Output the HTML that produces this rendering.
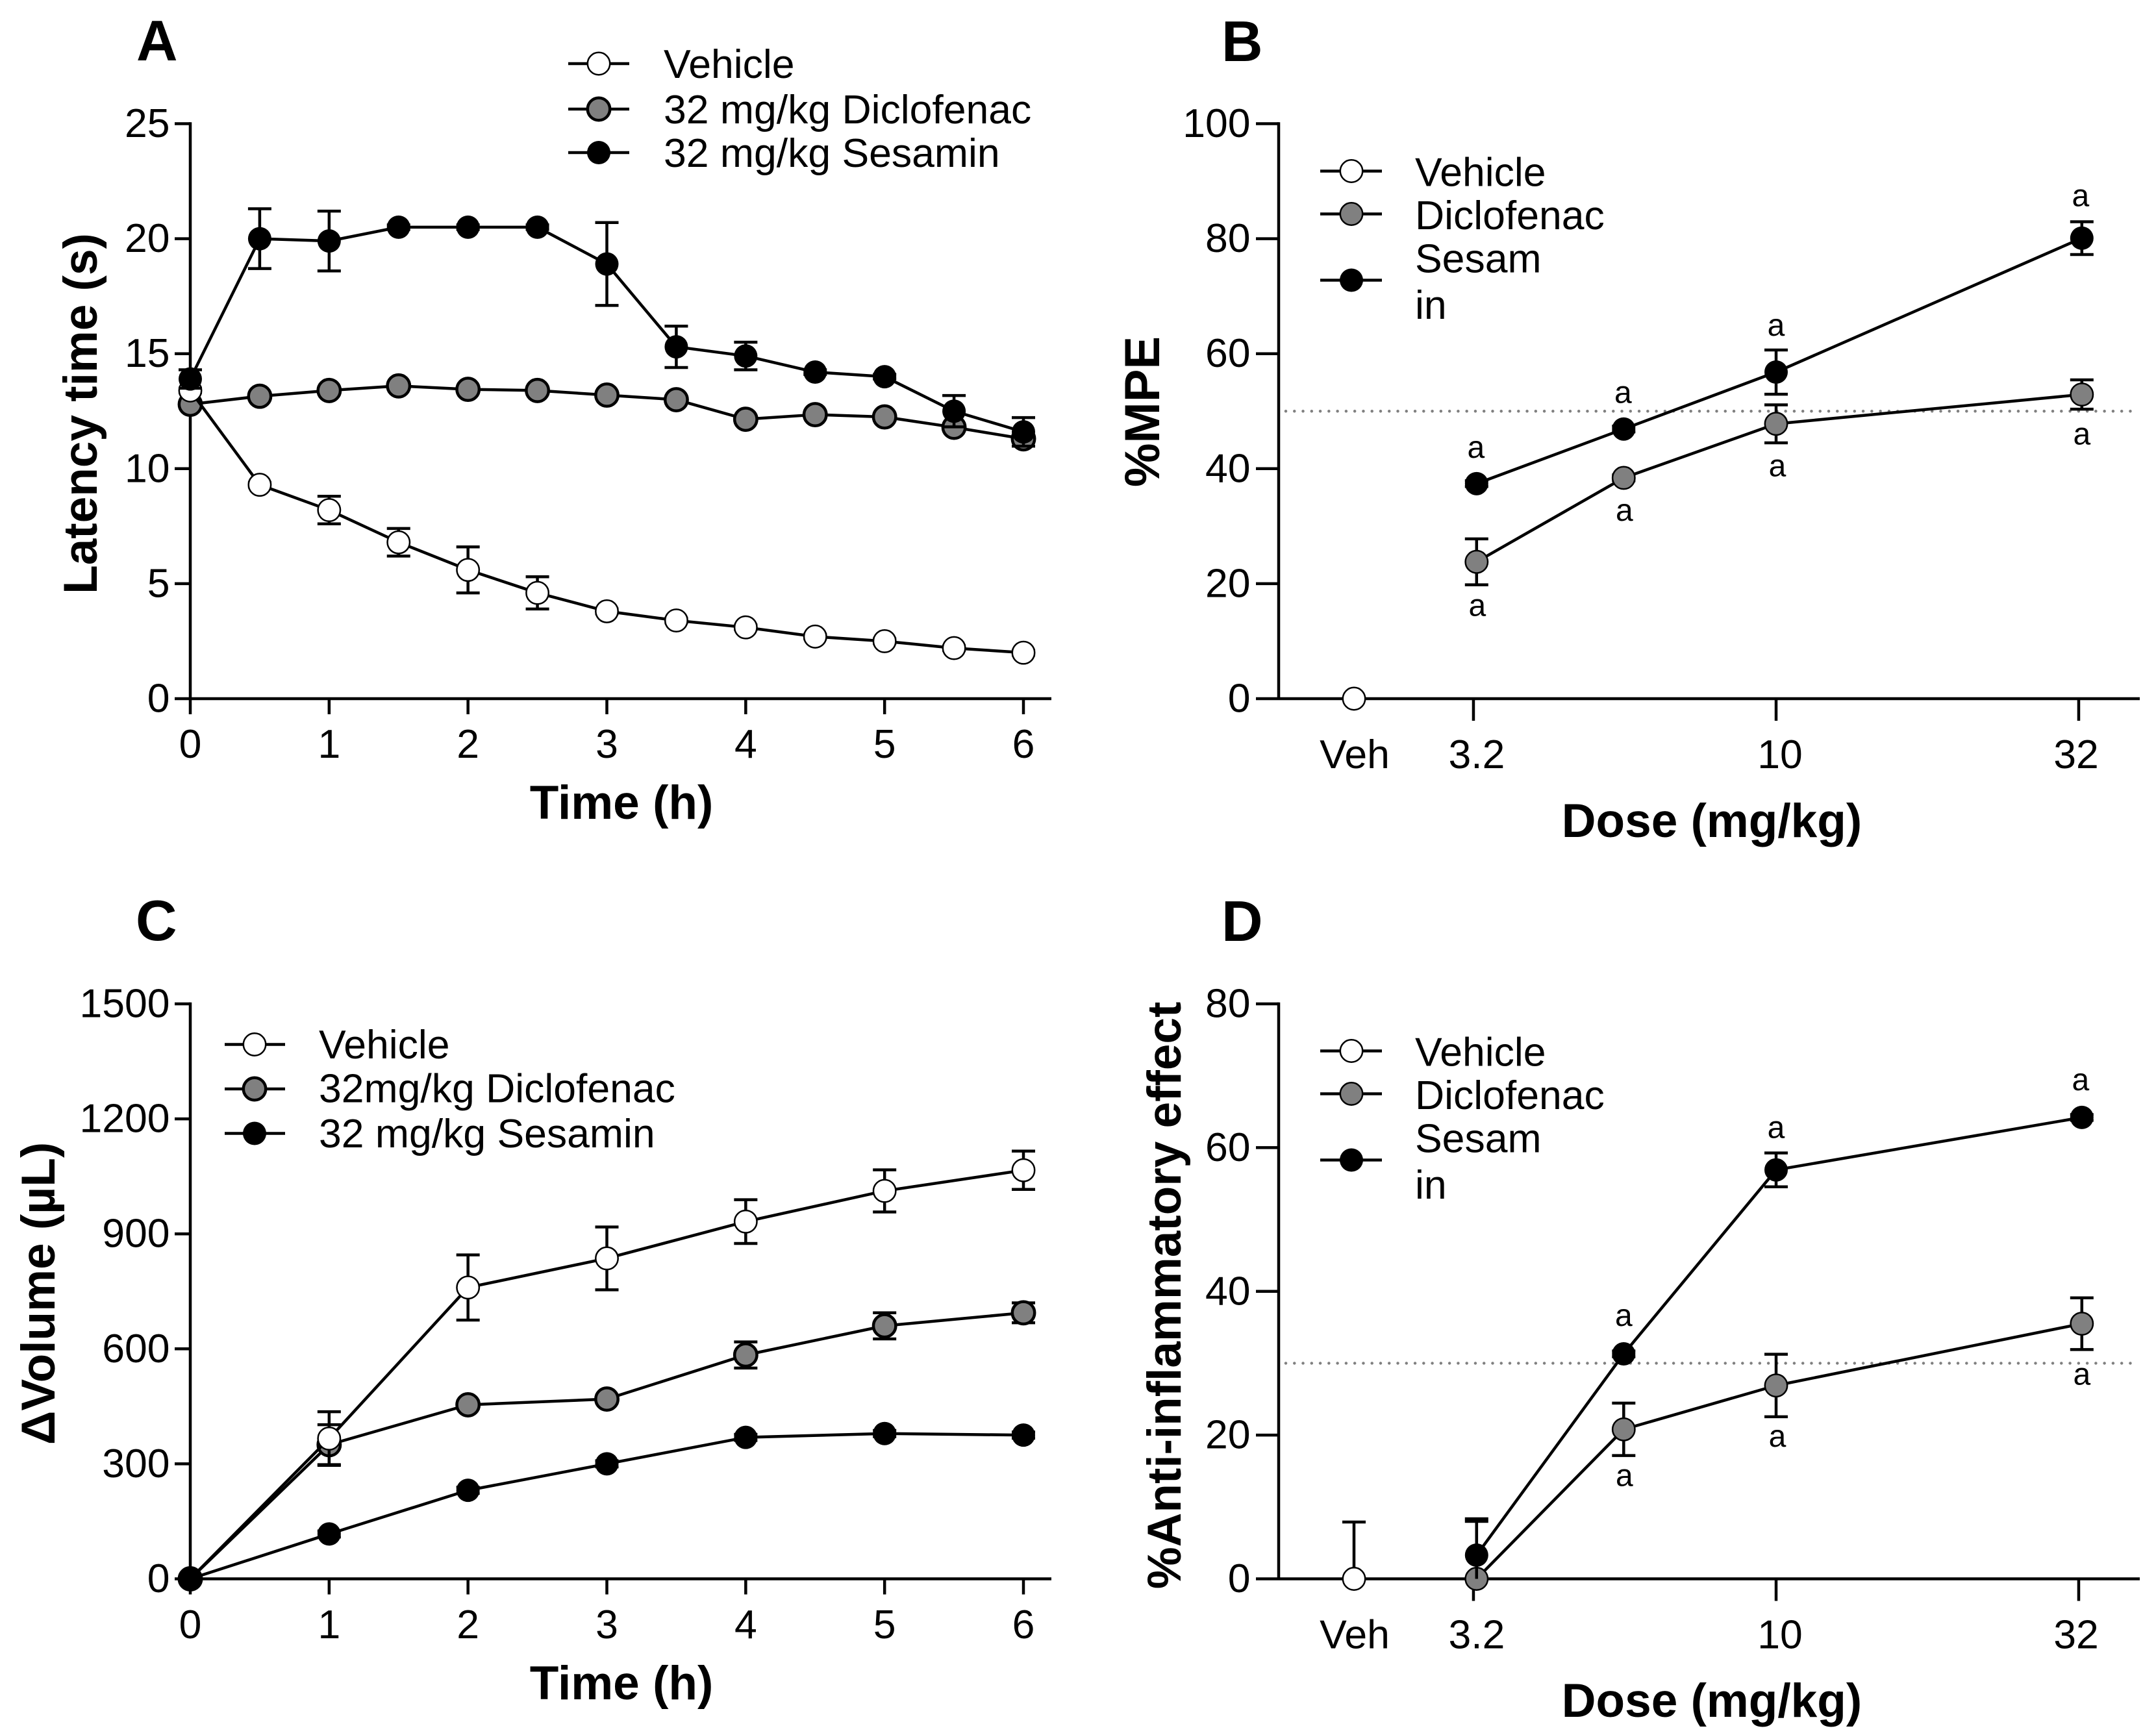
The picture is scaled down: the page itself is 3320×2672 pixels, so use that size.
<!DOCTYPE html>
<html lang="en">
<head>
<meta charset="utf-8">
<title>Latency, volume and dose-response panels</title>
<style>
  html, body { margin: 0; padding: 0; background: #fff; }
  svg { display: block; font-family: "Liberation Sans", Arial, sans-serif; fill: #000; }
  .tick { font-size: 62.5px; }
  .legend { font-size: 62.5px; }
  .title { font-size: 73px; font-weight: 700; }
  .panel-letter { font-size: 88px; font-weight: 700; }
  .sig { font-size: 48px; text-anchor: middle; }
</style>
</head>
<body>
<svg id="figure" xmlns="http://www.w3.org/2000/svg" width="3320" height="2672" viewBox="0 0 3320 2672">
  <rect x="0" y="0" width="3320" height="2672" fill="#fff"/>

  <g id="panel-a">
    <text class="panel-letter" x="210" y="93">A</text>
    <text class="title" x="957" y="1261" text-anchor="middle">Time (h)</text>
    <text class="title" text-anchor="middle" transform="translate(149 637) rotate(-90)">Latency time (s)</text>
  </g>
  <g id="panel-b">
    <text class="panel-letter" x="1881" y="94">B</text>
    <text class="title" x="2636" y="1289" text-anchor="middle">Dose (mg/kg)</text>
    <text class="title" style="font-size:76px" text-anchor="middle" transform="translate(1785 634) rotate(-90)">%MPE</text>
  </g>
  <g id="panel-c">
    <text class="panel-letter" x="209" y="1448">C</text>
    <text class="title" x="957" y="2617" text-anchor="middle">Time (h)</text>
    <text class="title" text-anchor="middle" transform="translate(84 1992) rotate(-90)">ΔVolume (µL)</text>
  </g>
  <g id="panel-d">
    <text class="panel-letter" x="1881" y="1449">D</text>
    <text class="title" x="2636" y="2644" text-anchor="middle">Dose (mg/kg)</text>
    <text class="title" text-anchor="middle" transform="translate(1818 1995) rotate(-90)">%Anti-inflammatory effect</text>
  </g>

  <g id="legend-a">
    <g>
      <line x1="875" x2="969" y1="98" y2="98" stroke="#000" stroke-width="4.5"/>
      <circle cx="922" cy="98" r="17.2" fill="#fff" stroke="#000" stroke-width="2.5"/>
      <text class="legend" x="1022" y="120">Vehicle</text>
    </g>
    <g>
      <line x1="875" x2="969" y1="168" y2="168" stroke="#000" stroke-width="4.5"/>
      <circle cx="922" cy="168" r="17.2" fill="#808080" stroke="#000" stroke-width="4.5"/>
      <text class="legend" x="1022" y="190">32 mg/kg Diclofenac</text>
    </g>
    <g>
      <line x1="875" x2="969" y1="235" y2="235" stroke="#000" stroke-width="4.5"/>
      <circle cx="922" cy="235" r="18" fill="#000"/>
      <text class="legend" x="1022" y="257">32 mg/kg Sesamin</text>
    </g>
  </g>

  <g id="legend-b">
    <g>
      <line x1="2033" x2="2128" y1="263.5" y2="263.5" stroke="#000" stroke-width="4.5"/>
      <circle cx="2081" cy="263.5" r="17.2" fill="#fff" stroke="#000" stroke-width="2.5"/>
      <text class="legend" x="2179" y="286.5">Vehicle</text>
    </g>
    <g>
      <line x1="2033" x2="2128" y1="329.5" y2="329.5" stroke="#000" stroke-width="4.5"/>
      <circle cx="2081" cy="329.5" r="17.2" fill="#808080" stroke="#000" stroke-width="2.5"/>
      <text class="legend" x="2179" y="353">Diclofenac</text>
    </g>
    <g>
      <line x1="2033" x2="2128" y1="431.5" y2="431.5" stroke="#000" stroke-width="4.5"/>
      <circle cx="2081" cy="431.5" r="18" fill="#000"/>
      <text class="legend" x="2179" y="419.5">Sesam</text>
      <text class="legend" x="2179" y="491">in</text>
    </g>
  </g>

  <g id="legend-c">
    <g>
      <line x1="346" x2="439" y1="1608.5" y2="1608.5" stroke="#000" stroke-width="4.5"/>
      <circle cx="392" cy="1608.5" r="17.2" fill="#fff" stroke="#000" stroke-width="2.5"/>
      <text class="legend" x="491" y="1630">Vehicle</text>
    </g>
    <g>
      <line x1="346" x2="439" y1="1677" y2="1677" stroke="#000" stroke-width="4.5"/>
      <circle cx="392" cy="1677" r="17.2" fill="#808080" stroke="#000" stroke-width="4.5"/>
      <text class="legend" x="491" y="1697.5">32mg/kg Diclofenac</text>
    </g>
    <g>
      <line x1="346" x2="439" y1="1745.5" y2="1745.5" stroke="#000" stroke-width="4.5"/>
      <circle cx="392" cy="1745.5" r="18" fill="#000"/>
      <text class="legend" x="491" y="1767">32 mg/kg Sesamin</text>
    </g>
  </g>

  <g id="legend-d">
    <g>
      <line x1="2033" x2="2128" y1="1618.5" y2="1618.5" stroke="#000" stroke-width="4.5"/>
      <circle cx="2081" cy="1618.5" r="17.2" fill="#fff" stroke="#000" stroke-width="2.5"/>
      <text class="legend" x="2179" y="1641.5">Vehicle</text>
    </g>
    <g>
      <line x1="2033" x2="2128" y1="1684.5" y2="1684.5" stroke="#000" stroke-width="4.5"/>
      <circle cx="2081" cy="1684.5" r="17.2" fill="#808080" stroke="#000" stroke-width="2.5"/>
      <text class="legend" x="2179" y="1708">Diclofenac</text>
    </g>
    <g>
      <line x1="2033" x2="2128" y1="1786.5" y2="1786.5" stroke="#000" stroke-width="4.5"/>
      <circle cx="2081" cy="1786.5" r="18" fill="#000"/>
      <text class="legend" x="2179" y="1774.5">Sesam</text>
      <text class="legend" x="2179" y="1846">in</text>
    </g>
  </g>
</svg>

<script>
// ---- Panel A data: latency time (s) vs time (h) ----
const aHours = [0, 0.5, 1, 1.5, 2, 2.5, 3, 3.5, 4, 4.5, 5, 5.5, 6];
const aVehicle = [13.4, 9.3, 8.2, 6.8, 5.6, 4.6, 3.8, 3.4, 3.1, 2.7, 2.5, 2.2, 2.0];
const aVehicleErr = [0.1, 0.1, 0.6, 0.6, 1.0, 0.7, 0.1, 0.1, 0.1, 0.1, 0.1, 0.1, 0.1];
const aDiclofenac = [12.8, 13.15, 13.4, 13.6, 13.45, 13.4, 13.2, 13.0, 12.15, 12.35, 12.25, 11.8, 11.3];
const aDiclofenacErr = [0.1, 0.1, 0.1, 0.1, 0.1, 0.1, 0.1, 0.1, 0.1, 0.1, 0.1, 0.1, 0.1];
const aSesamin = [13.9, 20.0, 19.9, 20.5, 20.5, 20.5, 18.9, 15.3, 14.9, 14.2, 14.0, 12.5, 11.6];
const aSesaminErr = [0.4, 1.3, 1.3, 0.1, 0.1, 0.1, 1.8, 0.9, 0.6, 0.1, 0.1, 0.68, 0.62];
const aXTicks = [0, 1, 2, 3, 4, 5, 6];
const aYTicks = [0, 5, 10, 15, 20, 25];

// ---- Panel B data: %MPE vs dose ----
const doseTreated = [3.2, 5.6, 10, 32];
const doseVehicle = [0];
const doseTicks = [3.162, 10, 31.62];
const doseTickLabels = ['3.2', '10', '32'];
const bVehicle = [0];
const bDiclofenac = [23.8, 38.4, 47.8, 52.9];
const bDiclofenacErr = [4.0, 0.5, 3.3, 2.55];
const bSesamin = [37.4, 46.9, 56.8, 80.1];
const bSesaminErr = [0.5, 0.5, 3.85, 2.85];
const bYTicks = [0, 20, 40, 60, 80, 100];
const bReference = 50;

// ---- Panel C data: volume change (uL) vs time (h) ----
const cHours = [0, 1, 2, 3, 4, 5, 6];
const cVehicle = [0, 366, 760, 836, 932, 1012, 1066];
const cVehicleErr = [0, 70, 85, 82, 57, 55, 50];
const cDiclofenac = [0, 350, 454, 469, 584, 660, 694];
const cDiclofenacErr = [0, 52, 10, 10, 34, 34, 26];
const cSesamin = [0, 117, 231, 300, 369, 379, 375];
const cSesaminErr = [0, 8, 8, 8, 8, 8, 8];
const cXTicks = [0, 1, 2, 3, 4, 5, 6];
const cYTicks = [0, 300, 600, 900, 1200, 1500];

// ---- Panel D data: %anti-inflammatory effect vs dose ----
const dVehicle = [0];
const dVehicleErr = [7.9];
const dDiclofenac = [0, 20.8, 26.9, 35.5];
const dDiclofenacErr = [8.0, 3.65, 4.35, 3.6];
const dSesamin = [3.3, 31.3, 56.9, 64.2];
const dSesaminErr = [5.06, 0.4, 2.35, 0.4];
const dYTicks = [0, 20, 40, 60, 80];
const dReference = 30;

const SVGNS = 'http://www.w3.org/2000/svg';
const STROKE = 4.5;

function create(parent, tag, attrs, name) {
  const node = document.createElementNS(SVGNS, tag);
  for (const key in attrs) node.setAttribute(key, attrs[key]);
  
  
  parent.appendChild(node);
  return node;
}

function linear(d0, d1, r0, r1) {
  return function (v) { return r0 + (v - d0) * (r1 - r0) / (d1 - d0); };
}

// Log dose axis with the vehicle group plotted as a separate category on the left.
function doseScale(d) {
  if (d <= 0) return 2085;
  return 2735 + 932 * Math.log10(d / 10);
}

function hLine(parent, x1, x2, y, name) {
  return create(parent, 'line', { x1: x1, x2: x2, y1: y, y2: y, stroke: '#000', 'stroke-width': STROKE }, name);
}
function vLine(parent, x, y1, y2, name) {
  return create(parent, 'line', { x1: x, x2: x, y1: y1, y2: y2, stroke: '#000', 'stroke-width': STROKE }, name);
}

function drawAxes(g, opt) {
  const y = opt.y, x = opt.x;
  const top = y(opt.yTicks[opt.yTicks.length - 1]);
  const base = y(0);
  vLine(g, opt.axisX, top - STROKE / 2, base, 'y-axis-line');
  hLine(g, opt.axisLeft, opt.axisRight, base, 'x-axis-line');
  opt.yTicks.forEach(function (t) {
    const py = y(t);
    if (t !== 0) hLine(g, opt.axisLeft, opt.axisX, py, 'y-tick');
    const label = create(g, 'text', { class: 'tick', x: opt.yLabelX, y: py + 20.5, 'text-anchor': 'end' }, 'y-tick-label');
    label.textContent = String(t);
  });
  opt.xTicks.forEach(function (t, i) {
    const px = x(t);
    vLine(g, px, base, base + opt.xTickLen, 'x-tick');
    const label = create(g, 'text', {
      class: 'tick', x: px + (opt.xLabelShift ? opt.xLabelShift[i] : 0), y: base + opt.xLabelDrop, 'text-anchor': 'middle'
    }, 'x-tick-label');
    label.textContent = opt.xLabels ? opt.xLabels[i] : String(t);
  });
}

const STYLES = {
  vehicle: { fill: '#fff', r: 17.2, sw: 2.5, stroke: '#000' },
  diclofenacThick: { fill: '#808080', r: 17.2, sw: 4.5, stroke: '#000' },
  diclofenacThin: { fill: '#808080', r: 17.2, sw: 2.5, stroke: '#000' },
  sesamin: { fill: '#000', r: 18, sw: 0, stroke: 'none' }
};

function drawSeries(g, name, xs, values, errs, x, y, style) {
  const group = create(g, 'g', {}, 'series-' + name);
  if (values.length > 1) {
    const pts = values.map(function (v, i) { return x(xs[i]).toFixed(2) + ',' + y(v).toFixed(2); }).join(' ');
    create(group, 'polyline', { points: pts, fill: 'none', stroke: '#000', 'stroke-width': STROKE, 'stroke-linejoin': 'round' }, name + '-line');
  }
  values.forEach(function (v, i) {
    const err = errs ? errs[i] : 0;
    const px = x(xs[i]);
    if (err > 0) {
      const hi = y(v + err);
      const lowVal = v - err;
      const lo = y(Math.max(lowVal, 0));
      vLine(group, px, hi, lo, name + '-error-bar');
      hLine(group, px - 18, px + 18, hi, name + '-error-cap');
      if (lowVal > 0) hLine(group, px - 18, px + 18, lo, name + '-error-cap');
    }
  });
  values.forEach(function (v, i) {
    const attrs = { cx: x(xs[i]), cy: y(v), r: style.r, fill: style.fill };
    if (style.sw > 0) { attrs.stroke = style.stroke; attrs['stroke-width'] = style.sw; }
    create(group, 'circle', attrs, name + '-point');
  });
}

function drawReference(g, y, value) {
  create(g, 'line', {
    x1: 1980, x2: 3288, y1: y(value), y2: y(value), stroke: '#808080', 'stroke-width': 4.5,
    'stroke-linecap': 'round', 'stroke-dasharray': '0 13.27'
  }, 'reference-line');
}

function drawSigLabels(g, xs, values, x, y, dx, dy) {
  values.forEach(function (v, i) {
    if (dy[i] === null) return;
    const label = create(g, 'text', { class: 'sig', x: x(xs[i]) + dx[i], y: y(v) + dy[i] }, 'significance-label');
    label.textContent = 'a';
  });
}

// Panel A
(function () {
  const g = document.getElementById('panel-a');
  const x = linear(0, 6, 293, 1576);
  const y = linear(0, 25, 1076, 190.5);
  drawAxes(g, { x: x, y: y, xTicks: aXTicks, yTicks: aYTicks, axisX: 293, axisLeft: 269, axisRight: 1619, yLabelX: 261.5, xTickLen: 24, xLabelDrop: 91 });
  drawSeries(g, 'diclofenac', aHours, aDiclofenac, aDiclofenacErr, x, y, STYLES.diclofenacThick);
  drawSeries(g, 'vehicle', aHours, aVehicle, aVehicleErr, x, y, STYLES.vehicle);
  drawSeries(g, 'sesamin', aHours, aSesamin, aSesaminErr, x, y, STYLES.sesamin);
})();

// Panel B
(function () {
  const g = document.getElementById('panel-b');
  const y = linear(0, 100, 1076, 190.5);
  drawAxes(g, { x: doseScale, y: y, xTicks: doseTicks, xLabels: doseTickLabels, xLabelShift: [5, 6, -4], yTicks: bYTicks, axisX: 1969, axisLeft: 1934, axisRight: 3295, yLabelX: 1925.5, xTickLen: 34, xLabelDrop: 107 });
  const veh = create(g, 'text', { class: 'tick', x: 2086, y: 1183, 'text-anchor': 'middle' }, 'x-tick-label');
  veh.textContent = 'Veh';
  drawReference(g, y, bReference);
  drawSeries(g, 'vehicle', doseVehicle, bVehicle, null, doseScale, y, STYLES.vehicle);
  drawSeries(g, 'diclofenac', doseTreated, bDiclofenac, bDiclofenacErr, doseScale, y, STYLES.diclofenacThin);
  drawSeries(g, 'sesamin', doseTreated, bSesamin, bSesaminErr, doseScale, y, STYLES.sesamin);
  drawSigLabels(g, doseTreated, bSesamin, doseScale, y, [-1, -1, 0, -2], [-40, -40, -56, -49]);
  drawSigLabels(g, doseTreated, bDiclofenac, doseScale, y, [1, 1, 2, 0], [83, 66, 81, 77]);
})();

// Panel C
(function () {
  const g = document.getElementById('panel-c');
  const x = linear(0, 6, 293, 1576);
  const y = linear(0, 1500, 2431.5, 1546);
  drawAxes(g, { x: x, y: y, xTicks: cXTicks, yTicks: cYTicks, axisX: 293, axisLeft: 269, axisRight: 1619, yLabelX: 261.5, xTickLen: 24, xLabelDrop: 91.5 });
  drawSeries(g, 'diclofenac', cHours, cDiclofenac, cDiclofenacErr, x, y, STYLES.diclofenacThick);
  drawSeries(g, 'vehicle', cHours, cVehicle, cVehicleErr, x, y, STYLES.vehicle);
  drawSeries(g, 'sesamin', cHours, cSesamin, cSesaminErr, x, y, STYLES.sesamin);
})();

// Panel D
(function () {
  const g = document.getElementById('panel-d');
  const y = linear(0, 80, 2431.5, 1546);
  drawAxes(g, { x: doseScale, y: y, xTicks: doseTicks, xLabels: doseTickLabels, xLabelShift: [5, 6, -4], yTicks: dYTicks, axisX: 1969, axisLeft: 1934, axisRight: 3295, yLabelX: 1925.5, xTickLen: 34, xLabelDrop: 107 });
  const veh = create(g, 'text', { class: 'tick', x: 2086, y: 2538.5, 'text-anchor': 'middle' }, 'x-tick-label');
  veh.textContent = 'Veh';
  drawReference(g, y, dReference);
  drawSeries(g, 'vehicle', doseVehicle, dVehicle, dVehicleErr, doseScale, y, STYLES.vehicle);
  drawSeries(g, 'diclofenac', doseTreated, dDiclofenac, dDiclofenacErr, doseScale, y, STYLES.diclofenacThin);
  drawSeries(g, 'sesamin', doseTreated, dSesamin, dSesaminErr, doseScale, y, STYLES.sesamin);
  drawSigLabels(g, doseTreated, dSesamin, doseScale, y, [0, 0, 0, -2], [null, -43, -49, -42]);
  drawSigLabels(g, doseTreated, dDiclofenac, doseScale, y, [0, 1, 2, 0], [null, 87, 94, 94]);
})();
</script>
</body>
</html>
